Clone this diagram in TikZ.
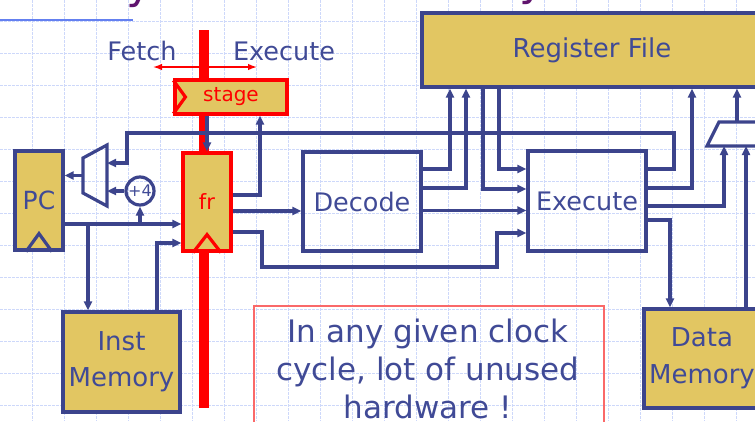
\documentclass[tikz,border=0pt]{standalone}
\usepackage{fontspec}
\setmainfont{DejaVu Sans}
\usetikzlibrary{arrows.meta}
\definecolor{lb}{RGB}{60,68,140}
\definecolor{tb}{RGB}{64,74,150}
\definecolor{gold}{RGB}{226,198,98}
\definecolor{gridc}{RGB}{205,216,250}
\definecolor{notered}{RGB}{250,105,105}
\definecolor{titlep}{RGB}{96,20,110}
\definecolor{topblue}{RGB}{100,128,240}
\newcommand{\myfs}[2]{\fontsize{#1pt}{#2pt}\selectfont}
\begin{document}
\begin{tikzpicture}[x=1pt,y=-1pt,
  gridline/.style={draw=gridc, line width=1pt, dash pattern=on 2.5pt off 1.5pt},
  goldbox/.style={draw=lb, line width=3.2pt, fill=gold, text=tb, inner sep=0pt, align=center},
  redbox/.style={draw=red, line width=3.2pt, fill=gold, text=red, inner sep=0pt},
  wbox/.style={draw=lb, line width=3.2pt, text=tb, inner sep=0pt},
  wire/.style={draw=lb, line width=3.2pt},
  arr/.style={wire, -{Triangle[length=9pt,width=8pt]}},
  lbl/.style={text=tb, inner sep=0pt},
  redarr/.style={draw=red, line width=1.4pt, {Latex[length=9pt,width=6.5pt]}-{Latex[length=9pt,width=6.5pt]}}
]
\useasboundingbox (0,0) rectangle (755,421);
% grid
\foreach \x in {32,64,...,736} \draw[gridline] (\x,0) -- (\x,421);
\foreach \y in {21,53,...,405} \draw[gridline] (0,\y) -- (755,\y);
\draw[draw=topblue, line width=1.5pt] (0,20) -- (133,20);
% title fragments
\node[text=titlep, font=\myfs{44}{50}, inner sep=0pt, anchor=base west] (t1) at (126,-2) {y};
\node[text=titlep, font=\myfs{44}{50}, inner sep=0pt, anchor=base west] (t2) at (519,-5) {y};
% red stage bar
\fill[red] (199,30) rectangle (209,408);
\coordinate (fa) at (153,67);
\coordinate (fb) at (257,67);
\draw[redarr] (fa) -- (fb);
\node[lbl, font=\myfs{25.5}{30}] (fetch) at (142,51) {Fetch};
\node[lbl, font=\myfs{25.5}{30}] (exlab) at (284,51) {Execute};
% boxes
\node[goldbox, minimum width=340, minimum height=74, font=\myfs{26}{30}] (rf) at (592,50) {Register File};
\node[goldbox, minimum width=48, minimum height=99, font=\myfs{25}{30}] (pc) at (39,200.5) {PC};
\draw[draw=lb, line width=3.2pt] ([xshift=-13pt]pc.south) -- ([yshift=18pt]pc.south) -- ([xshift=13pt]pc.south);
\node[redbox, minimum width=112, minimum height=34, font=\myfs{20}{24}] (stage) at (231,97) {stage};
\draw[draw=red, line width=3.2pt] ([yshift=-2pt]stage.north west) -- ([xshift=12pt]stage.west) -- ([yshift=2pt]stage.south west);
\node[redbox, minimum width=48, minimum height=98, font=\myfs{21}{24}] (fr) at (207,202) {fr};
\draw[draw=red, line width=3.2pt] ([xshift=-14pt]fr.south) -- ([yshift=18pt]fr.south) -- ([xshift=14pt]fr.south);
\node[wbox, minimum width=118, minimum height=99, font=\myfs{25.5}{30}] (dec) at (362,201.5) {Decode};
\node[wbox, minimum width=118, minimum height=100, font=\myfs{25.5}{30}] (exe) at (587,201) {Execute};
\node[goldbox, minimum width=117, minimum height=100, font=\myfs{26}{36}] (imem) at (121.5,362) {Inst\\Memory};
\node[goldbox, minimum width=116, minimum height=99, font=\myfs{26}{37}] (dmem) at (702,358.5) {Data\\Memory};
\node[circle, draw=lb, line width=3.2pt, minimum size=28pt, inner sep=0pt, text=tb, font=\myfs{16}{18}] (p4) at (140,191) {+4};
% muxes
\coordinate (m1a) at (83,158);
\coordinate (m1b) at (107,145);
\coordinate (m1c) at (107,206);
\coordinate (m1d) at (83,193);
\coordinate (m1o) at (83,175.5);
\draw[wire] (m1a) -- (m1b) -- (m1c) -- (m1d) -- cycle;
\coordinate (m2a) at (707,146);
\coordinate (m2b) at (719,122);
\draw[wire] (775,146) -- (m2a) -- (m2b) -- (775,122);
% note
\node[draw=notered, line width=1.5pt, minimum width=350pt, minimum height=140pt, anchor=north west, inner sep=0pt] (note) at (253,305) {};
\node[lbl, font=\myfs{31}{38}, align=center, anchor=north] (notetxt) at (428,318.5) {In any given clock\\cycle, lot of unused\\hardware !};
% wires
\coordinate (j1) at (88,224);
\coordinate (j2) at (140,224);
\draw[arr] (pc.east |- 0,224) -- (fr.west |- 0,224);
\draw[arr] (j1) -- (j1 |- imem.north);
\draw[arr] (j2) -- (p4.south);
\draw[arr] (p4.west) -- (p4.west -| m1b);
\draw[arr] (m1o) -- (m1o -| pc.east);
\draw[arr] (imem.north -| 157,0) -- (157,243) -- (fr.west |- 0,243);
\draw[arr] (fr.north |- stage.south) -- (fr.north);
\draw[arr] (fr.east |- 0,195) -- (260,195) -- (stage.south -| 260,0);
\draw[arr] (fr.east |- 0,211) -- (dec.west |- 0,211);
\draw[arr] (fr.east |- 0,232) -- (262,232) -- (262,267) -- (497,267) -- (497,233) -- (exe.west |- 0,233);
\draw[arr] (dec.east |- 0,169) -- (450,169) -- (rf.south -| 450,0);
\draw[arr] (dec.east |- 0,188) -- (466,188) -- (rf.south -| 466,0);
\draw[arr] (rf.south -| 483,0) -- (483,189) -- (exe.west |- 0,189);
\draw[arr] (rf.south -| 499,0) -- (499,169) -- (exe.west |- 0,169);
\draw[arr] (dec.east |- 0,210.5) -- (exe.west |- 0,210.5);
\draw[arr] (exe.east |- 0,169) -- (674,169) -- (674,133) -- (127,133) -- (127,163) -- (m1b |- 0,163);
\draw[arr] (exe.east |- 0,188) -- (692,188) -- (rf.south -| 692,0);
\draw[arr] (exe.east |- 0,206) -- (724,206) -- (m2a -| 724,0);
\draw[arr] (exe.east |- 0,220) -- (670,220) -- (dmem.north -| 670,0);
\draw[arr] (dmem.north -| 746,0) -- (m2a -| 746,0);
\draw[arr] (m2b -| 737,0) -- (rf.south -| 737,0);
\end{tikzpicture}
\end{document}
